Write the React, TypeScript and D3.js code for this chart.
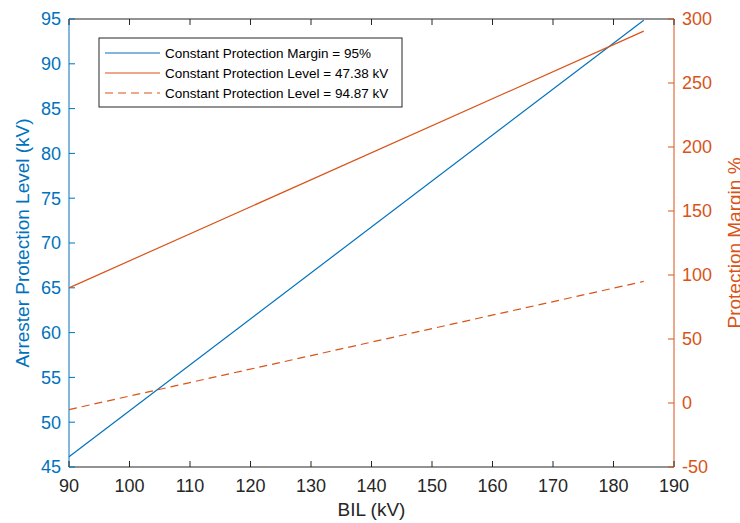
import React, { useEffect, useRef } from "react";
import * as d3 from "d3";

// BIL values (kV) at the two ends of each line
const bil = [90, 185];
// Constant protection margin = 95% -> arrester protection level (kV)
const aplMargin95 = [46.15, 94.87];
// Constant protection level 47.38 kV -> protection margin (%)
const marginLevel4738 = [89.95, 290.5];
// Constant protection level 94.87 kV -> protection margin (%)
const marginLevel9487 = [-5.13, 95.0];

const xTicks = [90, 100, 110, 120, 130, 140, 150, 160, 170, 180, 190];
const leftTicks = [45, 50, 55, 60, 65, 70, 75, 80, 85, 90, 95];
const rightTicks = [-50, 0, 50, 100, 150, 200, 250, 300];

const legendLabels = [
  "Constant Protection Margin = 95%",
  "Constant Protection Level = 47.38 kV",
  "Constant Protection Level = 94.87 kV",
];

const BLUE = "#0072BD";
const ORANGE = "#D95319";
const GREY = "#262626";

const App: React.FC = () => {
  const ref = useRef<SVGSVGElement>(null);

  useEffect(() => {
    document.body.style.margin = "0";
    const width = 740,
      height = 523;
    const left = 69,
      right = 674,
      top = 19,
      bottom = 467;

    const svg = d3.select(ref.current);
    svg.selectAll("*").remove();
    svg.attr("width", width).attr("height", height);
    const font = "Liberation Sans, Arial, sans-serif";

    svg.append("rect").attr("width", width).attr("height", height).attr("fill", "#fff");

    const x = d3.scaleLinear().domain([90, 190]).range([left, right]);
    const yL = d3.scaleLinear().domain([45, 95]).range([bottom, top]);
    const yR = d3.scaleLinear().domain([-50, 300]).range([bottom, top]);

    // frame: bottom and top in grey, sides in axis colours
    svg.append("line").attr("x1", left).attr("x2", right).attr("y1", bottom).attr("y2", bottom).attr("stroke", GREY);
    svg.append("line").attr("x1", left).attr("x2", right).attr("y1", top).attr("y2", top).attr("stroke", GREY);
    svg.append("line").attr("x1", left).attr("x2", left).attr("y1", top).attr("y2", bottom).attr("stroke", BLUE);
    svg.append("line").attr("x1", right).attr("x2", right).attr("y1", top).attr("y2", bottom).attr("stroke", ORANGE);

    // x ticks (inward, bottom and top)
    xTicks.forEach((t) => {
      const px = x(t);
      svg.append("line").attr("x1", px).attr("x2", px).attr("y1", bottom).attr("y2", bottom - 6).attr("stroke", GREY);
      svg.append("line").attr("x1", px).attr("x2", px).attr("y1", top).attr("y2", top + 6).attr("stroke", GREY);
      svg
        .append("text")
        .attr("x", px)
        .attr("y", bottom + 25)
        .attr("text-anchor", "middle")
        .attr("font-family", font)
        .attr("font-size", 18)
        .attr("fill", GREY)
        .text(t);
    });

    leftTicks.forEach((t) => {
      const py = yL(t);
      svg.append("line").attr("x1", left).attr("x2", left + 6).attr("y1", py).attr("y2", py).attr("stroke", BLUE);
      svg
        .append("text")
        .attr("x", left - 8)
        .attr("y", py)
        .attr("dy", "0.35em")
        .attr("text-anchor", "end")
        .attr("font-family", font)
        .attr("font-size", 18)
        .attr("fill", BLUE)
        .text(t);
    });

    rightTicks.forEach((t) => {
      const py = yR(t);
      svg.append("line").attr("x1", right).attr("x2", right - 6).attr("y1", py).attr("y2", py).attr("stroke", ORANGE);
      svg
        .append("text")
        .attr("x", right + 8)
        .attr("y", py)
        .attr("dy", "0.35em")
        .attr("text-anchor", "start")
        .attr("font-family", font)
        .attr("font-size", 18)
        .attr("fill", ORANGE)
        .text(t);
    });

    // axis labels
    svg
      .append("text")
      .attr("x", (left + right) / 2)
      .attr("y", 516)
      .attr("text-anchor", "middle")
      .attr("font-family", font)
      .attr("font-size", 19)
      .attr("fill", GREY)
      .text("BIL (kV)");
    svg
      .append("text")
      .attr("transform", `translate(29,${(top + bottom) / 2}) rotate(-90)`)
      .attr("text-anchor", "middle")
      .attr("font-family", font)
      .attr("font-size", 19)
      .attr("fill", BLUE)
      .text("Arrester Protection Level (kV)");
    svg
      .append("text")
      .attr("transform", `translate(741,${(top + bottom) / 2}) rotate(-90)`)
      .attr("text-anchor", "middle")
      .attr("font-family", font)
      .attr("font-size", 19)
      .attr("fill", ORANGE)
      .text("Protection Margin %");

    const lineL = d3
      .line<number>()
      .x((_, i) => x(bil[i]))
      .y((d) => yL(d));
    const lineR = d3
      .line<number>()
      .x((_, i) => x(bil[i]))
      .y((d) => yR(d));

    svg.append("path").attr("d", lineL(aplMargin95)!).attr("fill", "none").attr("stroke", BLUE).attr("stroke-width", 1.2);
    svg.append("path").attr("d", lineR(marginLevel4738)!).attr("fill", "none").attr("stroke", ORANGE).attr("stroke-width", 1.2);
    svg
      .append("path")
      .attr("d", lineR(marginLevel9487)!)
      .attr("fill", "none")
      .attr("stroke", ORANGE)
      .attr("stroke-width", 1.2)
      .attr("stroke-dasharray", "8,5");

    // legend
    const lg = svg.append("g");
    lg.append("rect")
      .attr("x", 99)
      .attr("y", 38)
      .attr("width", 303)
      .attr("height", 69)
      .attr("fill", "#fff")
      .attr("stroke", GREY)
      .attr("stroke-width", 1);
    const styles = [
      { c: BLUE, dash: null },
      { c: ORANGE, dash: null },
      { c: ORANGE, dash: "8,5" },
    ];
    legendLabels.forEach((lab, i) => {
      const ly = 53 + i * 20;
      const l = lg
        .append("line")
        .attr("x1", 105)
        .attr("x2", 160)
        .attr("y1", ly)
        .attr("y2", ly)
        .attr("stroke", styles[i].c)
        .attr("stroke-width", 1.2);
      if (styles[i].dash) l.attr("stroke-dasharray", styles[i].dash);
      lg.append("text")
        .attr("x", 165)
        .attr("y", ly)
        .attr("dy", "0.35em")
        .attr("font-family", font)
        .attr("font-size", 13.5)
        .attr("fill", "#000")
        .text(lab);
    });
  }, []);

  return <svg ref={ref} style={{ display: "block" }}></svg>;
};

export default App;
